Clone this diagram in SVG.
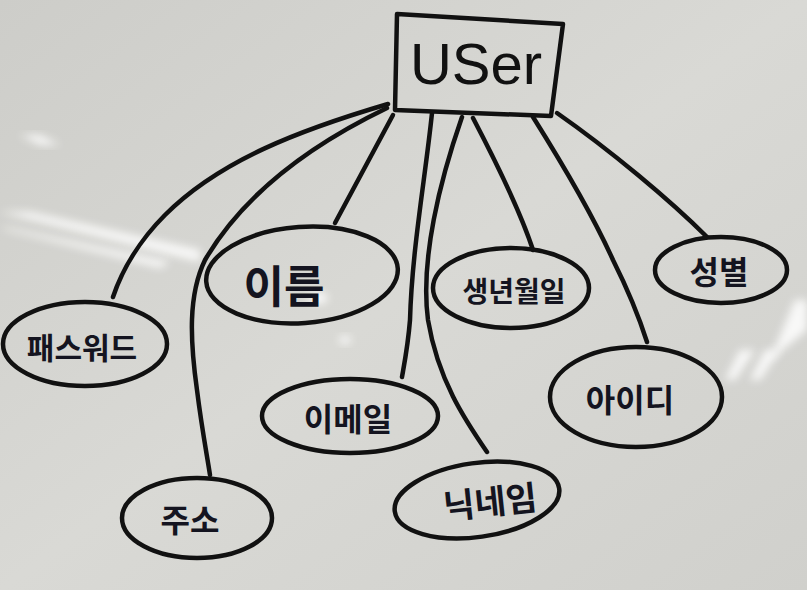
<svg xmlns="http://www.w3.org/2000/svg" width="807" height="590" viewBox="0 0 807 590">
<defs>
<linearGradient id="bg" x1="0" y1="0" x2="1" y2="1">
<stop offset="0" stop-color="#cdcdc9"/>
<stop offset="0.5" stop-color="#d9d9d5"/>
<stop offset="1" stop-color="#d0d0cc"/>
</linearGradient>
<filter id="blur" x="-50%" y="-50%" width="200%" height="200%"><feGaussianBlur stdDeviation="4"/></filter>
<style>
.ln{fill:none;stroke:#111;stroke-width:4.5;stroke-linecap:round;stroke-linejoin:round}
.el{fill:none;stroke:#111;stroke-width:4.5}
.t{font-family:"Noto Sans CJK KR","Noto Sans",sans-serif;font-weight:bold;fill:#141420;text-anchor:middle;dominant-baseline:central}
.tu{font-family:"Liberation Sans",sans-serif;font-weight:normal;fill:#111;text-anchor:middle;dominant-baseline:central}
.glare{fill:#ffffff;opacity:0.85;filter:url(#blur)}
</style>
</defs>
<rect width="807" height="590" fill="url(#bg)"/>
<g id="glare">
<path class="glare" d="M0 212 L30 212 L200 250 L200 262 Z"/>
<path class="glare" d="M0 228 L10 228 L170 262 L160 268 Z" opacity="0.6"/>
<ellipse class="glare" cx="318" cy="298" rx="10" ry="6"/>
<ellipse class="glare" cx="345" cy="340" rx="6" ry="4"/>
<path class="glare" d="M795 300 L807 300 L807 330 L770 360 Z" opacity="0.7"/>
<path class="glare" d="M740 350 L755 350 L735 380 L725 380 Z" opacity="0.6"/>
<path class="glare" d="M765 350 L780 350 L760 380 L750 380 Z" opacity="0.6"/>
<path class="glare" d="M20 135 L40 135 L60 145 L40 145 Z" opacity="0.5"/>
</g>
<g id="connectors">
<path class="ln" d="M388 104 C300 130 220 160 165 215 C140 240 122 270 113 297"/>
<path class="ln" d="M387 108 C300 150 240 200 205 260 C188 295 190 340 197 390 C202 430 207 455 210 475"/>
<path class="ln" d="M393 115 L335 223"/>
<path class="ln" d="M432 113 C425 180 412 250 410 320 C408 345 405 360 402 377"/>
<path class="ln" d="M462 117 C440 180 420 260 428 320 C438 380 465 420 487 452"/>
<path class="ln" d="M473 118 C495 160 520 210 533 250"/>
<path class="ln" d="M533 117 C560 160 595 220 613 260 C628 290 640 320 647 342"/>
<path class="ln" d="M557 113 C610 150 670 200 707 237"/>
</g>
<g id="user">
<path class="ln" d="M397 14 L563 24 L551 116 L395 110 Z"/>
<text class="tu" x="476" y="63" font-size="58">USer</text>
</g>
<g id="password">
<ellipse class="el" cx="85" cy="344" rx="82" ry="42"/>
<text class="t" x="82" y="346" font-size="30">패스워드</text>
</g>
<g id="address">
<ellipse class="el" cx="197" cy="518" rx="75" ry="40"/>
<text class="t" x="190" y="518" font-size="32">주소</text>
</g>
<g id="name">
<ellipse class="el" cx="302" cy="275" rx="96" ry="48" transform="rotate(-4 302 275)"/>
<text class="t" x="284" y="284" font-size="44">이름</text>
</g>
<g id="email">
<ellipse class="el" cx="350" cy="416" rx="88" ry="37"/>
<text class="t" x="348" y="417" font-size="32">이메일</text>
</g>
<g id="nickname">
<ellipse class="el" cx="477" cy="500" rx="83" ry="37" transform="rotate(-8 477 500)"/>
<text class="t" x="490" y="500" font-size="34" transform="rotate(-6 490 500)">닉네임</text>
</g>
<g id="birthdate">
<ellipse class="el" cx="511" cy="288" rx="78" ry="40"/>
<text class="t" x="514" y="290" font-size="28">생년월일</text>
</g>
<g id="userid">
<ellipse class="el" cx="636" cy="397" rx="86" ry="50"/>
<text class="t" x="630" y="398" font-size="32">아이디</text>
</g>
<g id="gender">
<ellipse class="el" cx="721" cy="270" rx="66" ry="33"/>
<text class="t" x="719" y="270" font-size="32">성별</text>
</g>
</svg>
